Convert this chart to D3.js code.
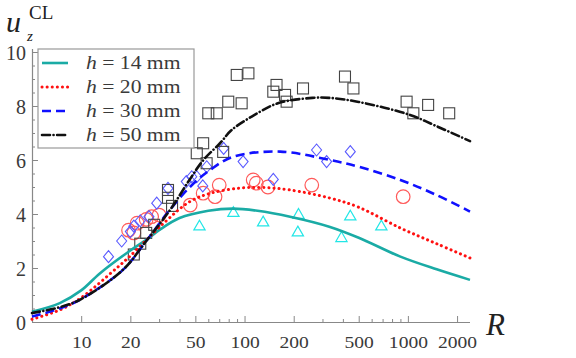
<!DOCTYPE html>
<html><head><meta charset="utf-8">
<script src="https://cdn.jsdelivr.net/npm/d3@7"></script>
<style>body{margin:0;background:#fff}svg{display:block}</style>
</head><body><svg id="c" width="576" height="358"></svg>
<script>
// ---- data ----
const xMajorTicks = [10, 20, 50, 100, 200, 500, 1000, 2000];
const xMinorTicks = [30, 40, 60, 70, 80, 90, 300, 400, 600, 700, 800, 900];
const yMajorTicks = [0, 2, 4, 6, 8, 10];
const yMinorTicks = [0.5,1,1.5,2.5,3,3.5,4.5,5,5.5,6.5,7,7.5,8.5,9,9.5];
const seriesLabels = ["14", "20", "30", "50"];

// fitted curves: [R, u]
const curve14 = [[5,0.38],[7.4,0.7],[10,1.17],[13,1.8],[20,2.65],[25,3.04],[30,3.4],[40,3.85],[60,4.12],[85,4.2],[120,4.12],[190,3.9],[330,3.53],[500,3.12],[900,2.42],[1500,1.95],[2400,1.56]];
const curve20 = [[5,0.1],[7.4,0.45],[10,0.9],[16.5,2.0],[20,2.45],[32,3.66],[46,4.45],[62,4.77],[94,4.96],[130,4.98],[190,4.89],[333,4.59],[500,4.25],[900,3.48],[1500,2.9],[2400,2.37]];
const curve30 = [[5,0.2],[7.4,0.5],[10,0.85],[18,1.93],[25,3.0],[33.6,4.03],[46.5,5.01],[61.5,5.63],[85,6.12],[165,6.31],[333,6.0],[500,5.75],[900,5.26],[1500,4.7],[2400,4.09]];
const curve50 = [[5,0.33],[7.4,0.55],[10,0.85],[18,1.93],[25,3.0],[35,4.15],[46,5.26],[56,6.0],[71,6.63],[83,7.1],[110,7.6],[160,8.1],[260,8.3],[333,8.3],[500,8.15],[1030,7.67],[1500,7.25],[2400,6.7]];

// measured points: [R, u]
const pts14 = [[53,3.53],[85.5,4.03],[130,3.68],[214,3.96],[212,3.31],[392,3.1],[444,3.9],[688,3.53]];
const pts20 = [[19.5,3.4],[21,3.3],[22,3.66],[25,3.8],[27,3.9],[30,3.96],[46.5,4.33],[55.8,4.77],[66,4.64],[70,5.07],[113,5.26],[118,5.14],[139,5.0],[258,5.07],[936,4.64]];
const pts30 = [[14.7,2.42],[17.7,3.0],[20,3.35],[21,3.55],[23,3.75],[26,3.9],[29,4.4],[34,4.95],[44,5.2],[47.5,5.38],[51,5.38],[55.5,5.04],[58.7,5.75],[74.5,6.43],[98,5.94],[150,5.28],[276,6.37],[318,5.94],[444,6.31]];
const pts50 = [[21,2.5],[23,2.9],[25,3.3],[28,3.6],[34,4.6],[34,4.89],[36,4.3],[51,6.25],[55.8,6.62],[58.6,5.88],[74,6.3],[60,7.73],[67.6,7.73],[79.5,8.16],[96,8.1],[89.6,9.15],[105.6,9.21],[150,8.53],[157,8.78],[177,8.41],[181,8.16],[228,8.65],[412,9.09],[464,8.65],[982,8.16],[1080,7.73],[1330,8.04],[1790,7.73]];

// ---- drawing ----
const svg = d3.select("#c");
const x = d3.scaleLog().domain([5, 2400]).range([32, 470]);
const y = d3.scaleLinear().domain([0, 10]).range([322, 52]);
const serif = "'Liberation Serif','Times New Roman',serif";
const axisCol = "#888";
const txtCol = "#3a3a3a";

// axes
const gx = svg.append("g").attr("transform", "translate(0,322)");
gx.call(d3.axisBottom(x).tickValues(xMajorTicks).tickSize(-6).tickPadding(14).tickFormat(d3.format("d")));
const gxm = svg.append("g").attr("transform", "translate(0,322)");
gxm.call(d3.axisBottom(x).tickValues(xMinorTicks).tickSize(-3).tickFormat(""));
const gy = svg.append("g").attr("transform", "translate(32,0)");
gy.call(d3.axisLeft(y).tickValues(yMajorTicks).tickSize(-6).tickPadding(6).tickFormat(d3.format("d")));
const gym = svg.append("g").attr("transform", "translate(32,0)");
gym.call(d3.axisLeft(y).tickValues(yMinorTicks).tickSize(-3).tickFormat(""));
[gx, gxm, gy, gym].forEach(g => {
  g.selectAll("path.domain").attr("stroke", axisCol).attr("stroke-width", 1.2);
  g.selectAll(".tick line").attr("stroke", axisCol).attr("stroke-width", 1);
});
gx.select("path.domain").attr("d", "M32,0.5H470");
gxm.select("path.domain").remove();
gym.select("path.domain").remove();
gy.select("path.domain").attr("d", "M0.5," + y(0) + "V" + (y(10) - 3));
gx.selectAll(".tick text").attr("font-family", serif).attr("font-size", 17).attr("fill", txtCol)
  .attr("dy", "0.71em").attr("transform", "scale(1.15,1)");
gy.selectAll(".tick text").attr("font-family", serif).attr("font-size", 20).attr("fill", txtCol)
  .attr("x", -6).attr("dy", "0.36em");

// curves
const line = d3.line().x(d => x(d[0])).y(d => y(d[1])).curve(d3.curveCatmullRom.alpha(0.5));
const styles = [
  {data: curve14, color: "#1aaba5", dash: null, cap: "butt", w: 2.6},
  {data: curve20, color: "#ff1010", dash: "0.1 5", cap: "round", w: 3},
  {data: curve30, color: "#1010ff", dash: "9 5", cap: "butt", w: 2.6},
  {data: curve50, color: "#111", dash: "8 3.5 0.1 3.5", cap: "round", w: 2.6}
];

// markers
const mk = svg.append("g");
mk.selectAll("path.tri").data(pts14).join("path")
  .attr("d", d3.symbol(d3.symbolTriangle, 55))
  .attr("transform", d => `translate(${x(d[0])},${y(d[1])})`)
  .attr("fill", "none").attr("stroke", "#22e6e6").attr("stroke-width", 1.2);
mk.selectAll("circle.c").data(pts20).join("circle")
  .attr("cx", d => x(d[0])).attr("cy", d => y(d[1])).attr("r", 6.8)
  .attr("fill", "none").attr("stroke", "#ff5a5a").attr("stroke-width", 1.2);
mk.selectAll("path.dia").data(pts30).join("path")
  .attr("d", "M0,-6L5,0L0,6L-5,0Z")
  .attr("transform", d => `translate(${x(d[0])},${y(d[1])})`)
  .attr("fill", "none").attr("stroke", "#5a5aff").attr("stroke-width", 1.1);
mk.selectAll("rect.sq").data(pts50).join("rect")
  .attr("x", d => x(d[0]) - 5.5).attr("y", d => y(d[1]) - 5.5).attr("width", 11).attr("height", 11)
  .attr("fill", "none").attr("stroke", "#444").attr("stroke-width", 1.1);

const cg = svg.append("g");
styles.forEach(s => {
  cg.append("path").attr("d", line(s.data)).attr("fill", "none")
    .attr("stroke", s.color).attr("stroke-width", s.w)
    .attr("stroke-dasharray", s.dash).attr("stroke-linecap", s.cap);
});

// legend
const lg = svg.append("g");
lg.append("rect").attr("x", 38).attr("y", 49).attr("width", 156).attr("height", 99)
  .attr("fill", "#fff").attr("stroke", "#999").attr("stroke-width", 1.2);
styles.forEach((s, i) => {
  const yy = 63 + i * 24;
  lg.append("line").attr("x1", 42).attr("x2", 68).attr("y1", yy).attr("y2", yy)
    .attr("stroke", s.color).attr("stroke-width", s.w)
    .attr("stroke-dasharray", s.dash).attr("stroke-linecap", s.cap);
  const t = lg.append("text").attr("x", 86 / 1.17).attr("y", yy + 6).attr("font-family", serif)
    .attr("font-size", 18.5).attr("fill", txtCol).attr("transform", "scale(1.17,1)");
  t.append("tspan").attr("font-style", "italic").text("h");
  t.append("tspan").text(" = " + seriesLabels[i] + " mm");
});

// axis titles (separate texts for symbol, subscript, superscript)
svg.append("text").attr("x", 6).attr("y", 32).attr("font-family", serif).attr("font-style", "italic")
  .attr("font-size", 30).attr("fill", "#222").text("u");
svg.append("text").attr("x", 27).attr("y", 41).attr("font-family", serif).attr("font-style", "italic")
  .attr("font-size", 15).attr("fill", "#222").text("z");
svg.append("text").attr("x", 29).attr("y", 19).attr("font-family", serif)
  .attr("font-size", 19).attr("fill", "#222").text("CL");
svg.append("text").attr("x", 486).attr("y", 335).attr("font-family", serif).attr("font-style", "italic")
  .attr("font-size", 31).attr("fill", "#222").text("R");
</script></body></html>
